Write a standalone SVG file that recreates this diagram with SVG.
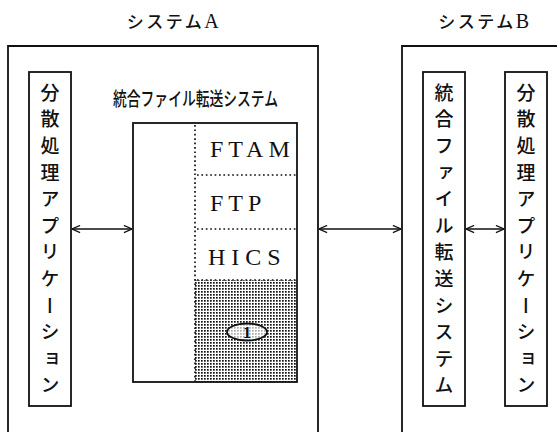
<svg xmlns="http://www.w3.org/2000/svg" width="557" height="432" viewBox="0 0 557 432">
<style>
.box{fill:none;stroke:#111;stroke-width:1.8}
.ibox{fill:#fff;stroke:#111;stroke-width:1.8}
.dot{fill:none;stroke:#111;stroke-width:1.7;stroke-dasharray:1.7 2.7}
.jp{font-family:"Noto Sans CJK JP","Noto Sans",sans-serif;fill:#111;font-weight:500}
.vt{font-family:"Noto Sans CJK JP",sans-serif;font-size:19px;font-weight:500;fill:#111;writing-mode:vertical-rl;letter-spacing:7.6px}
.lat{font-family:"Liberation Serif",serif;fill:#111}
.conn line{stroke:#111;stroke-width:1.4}
</style>
<defs>
<pattern id="dots" width="3" height="3" patternUnits="userSpaceOnUse">
<rect x="0" y="0" width="1.7" height="1.7" fill="#111"/>
</pattern>
<marker id="ah" viewBox="0 0 10 10" refX="10" refY="5" markerWidth="9" markerHeight="9" markerUnits="userSpaceOnUse" orient="auto-start-reverse">
<path d="M1,1 L10,5 L1,9" fill="none" stroke="#111" stroke-width="1.4"/>
</marker>
</defs>
<rect width="557" height="432" fill="#fff"/>

<g id="systemA">
<path class="box" d="M8,440 V46 H318 V440"/>
<text class="jp" x="174" y="28" font-size="17" text-anchor="middle" letter-spacing="2.5">システム<tspan class="lat" font-size="20">A</tspan></text>
</g>

<g id="systemB">
<path class="box" d="M402,440 V46 H570"/>
<text class="jp" x="485" y="28" font-size="17" text-anchor="middle" letter-spacing="2.5">システム<tspan class="lat" font-size="20">B</tspan></text>
</g>

<g id="appA">
<rect class="box" x="29" y="72" width="42" height="334"/>
<text class="vt" x="50" y="83">分散処理アプリケーション</text>
</g>

<g id="ftsA">
<text class="jp" x="113" y="106" font-size="19" textLength="165" lengthAdjust="spacingAndGlyphs">統合ファイル転送システム</text>
<rect class="ibox" x="133" y="123" width="164" height="259"/>
<rect x="195" y="280" width="102" height="102" fill="url(#dots)"/>
<line class="dot" x1="195" y1="125" x2="195" y2="381"/>
<line class="dot" x1="197" y1="175" x2="296" y2="175"/>
<line class="dot" x1="197" y1="229" x2="296" y2="229"/>
<line class="dot" x1="197" y1="280" x2="296" y2="280"/>
<text class="lat" x="210" y="157" font-size="24" letter-spacing="5">FTAM</text>
<text class="lat" x="210" y="211" font-size="24" letter-spacing="5">FTP</text>
<text class="lat" x="208" y="265" font-size="24" letter-spacing="6">HICS</text>
<ellipse cx="247" cy="332" rx="20" ry="8.5" fill="#fff" fill-opacity="0.65" stroke="#111" stroke-width="1.8"/>
<text class="lat" x="247" y="338" font-size="17" font-weight="bold" text-anchor="middle">1</text>
</g>

<g id="ftsB">
<rect class="box" x="423" y="72" width="42" height="334"/>
<text class="vt" x="444" y="83">統合ファイル転送システム</text>
</g>

<g id="appB">
<rect class="box" x="505" y="72" width="42" height="334"/>
<text class="vt" x="526" y="83">分散処理アプリケーション</text>
</g>

<g id="connectors" class="conn">
<line x1="72" y1="229" x2="132" y2="229" marker-start="url(#ah)" marker-end="url(#ah)"/>
<line x1="319" y1="229" x2="401" y2="229" marker-start="url(#ah)" marker-end="url(#ah)"/>
<line x1="466" y1="229" x2="504" y2="229" marker-start="url(#ah)" marker-end="url(#ah)"/>
</g>
</svg>
